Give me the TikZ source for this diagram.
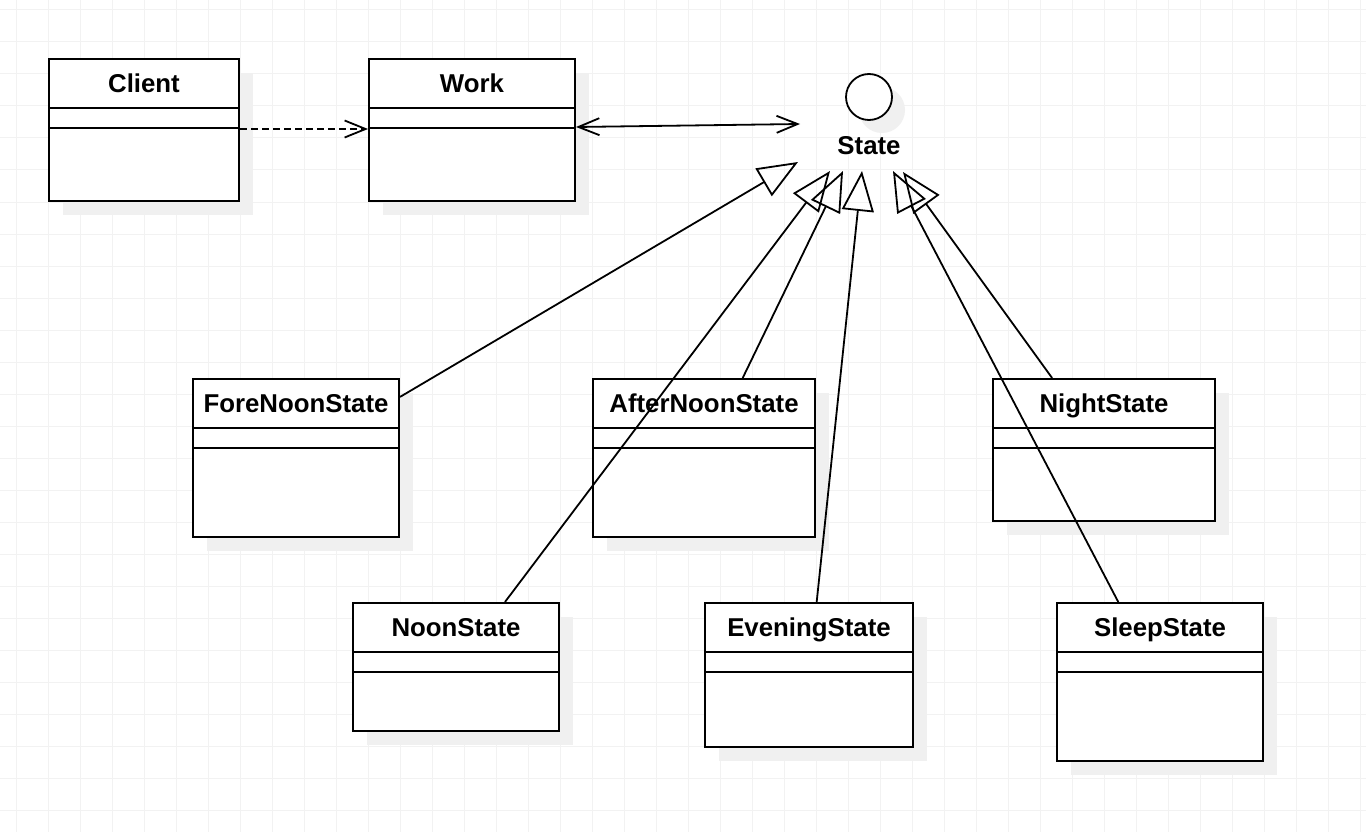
\documentclass[tikz,border=0pt]{standalone}
\usepackage{fontspec}
\setmainfont{Liberation Sans}
\usetikzlibrary{arrows.meta,shadows,calc}
\definecolor{gridc}{HTML}{F2F2F2}
\definecolor{shd}{HTML}{F0F0F0}
\newcommand\umlclass[6]{%
  \node[classbox, minimum width=#4pt, minimum height=#5pt] (#1) at (#2,#3) {};
  \node[ctitle] (#1-t) at ($(#1.north)+(0,25)$) {#6};
  \draw[cline] ($(#1.north west)+(0,50)$) -- ($(#1.north east)+(0,50)$);
  \draw[cline] ($(#1.north west)+(0,70)$) -- ($(#1.north east)+(0,70)$);
}
\begin{document}
\begin{tikzpicture}[x=1pt,y=-1pt,
  classbox/.style={draw, line width=2pt, fill=white, anchor=north west, inner sep=0pt,
    drop shadow={shadow xshift=14pt,shadow yshift=-14pt,fill=shd,opacity=1}},
  ctitle/.style={font=\fontsize{25.8}{30}\selectfont\bfseries, text height=18.5pt, text depth=0pt, inner sep=0pt, anchor=center},
  cline/.style={line width=2pt},
  gen/.style={line width=1.8pt, -{Triangle[open, length=40pt, width=32pt]}},
  dep/.style={line width=1.8pt, dash pattern=on 6.5pt off 4.5pt, -{Straight Barb[length=21pt, width=17pt]}},
  assoc/.style={line width=1.8pt, {Straight Barb[length=21pt, width=17pt]}-{Straight Barb[length=21pt, width=17pt]}}
]
\useasboundingbox (0,0) rectangle (1366,832);
\fill[white] (0,0) rectangle (1366,832);
% grid
\foreach \k in {0,...,42} { \draw[gridc, line width=1pt] (16+32*\k,0) -- (16+32*\k,832); }
\foreach \k in {0,...,25} { \draw[gridc, line width=1pt] (0,10+32*\k) -- (1366,10+32*\k); }

% classes
\umlclass{client}{48}{58}{190}{142}{Client}
\umlclass{work}{368}{58}{206}{142}{Work}
\umlclass{fore}{192}{378}{206}{158}{ForeNoonState}
\umlclass{after}{592}{378}{222}{158}{AfterNoonState}
\umlclass{night}{992}{378}{222}{142}{NightState}
\umlclass{noon}{352}{602}{206}{128}{NoonState}
\umlclass{evening}{704}{602}{208}{144}{EveningState}
\umlclass{sleep}{1056}{602}{206}{158}{SleepState}

% interface State
\node[circle, draw, line width=1.8pt, minimum size=46pt, inner sep=0pt, fill=white,
  drop shadow={shadow xshift=13pt,shadow yshift=-13pt,fill=shd,opacity=1}] (state) at (869,97) {};
\node[ctitle] (state-t) at (869,145) {State};

% connector ends
\coordinate (wsend) at (800,124);
\coordinate (t1) at (798,162);
\coordinate (t2) at (830,171);
\coordinate (t3) at (843,171);
\coordinate (t4) at (862,171);
\coordinate (t5) at (893,171);
\coordinate (t6) at (903,172);

% connectors
\draw[dep] ([yshift=1pt]client.east) -- ([yshift=1pt]work.west);
\draw[assoc] ([yshift=3pt]work.east) -- (wsend);
\draw[gen] (fore) -- (t1);
\draw[gen] (noon) -- (t2);
\draw[gen] (after) -- (t3);
\draw[gen] (evening) -- (t4);
\draw[gen] (sleep) -- (t5);
\draw[gen] (night) -- (t6);
\end{tikzpicture}
\end{document}
